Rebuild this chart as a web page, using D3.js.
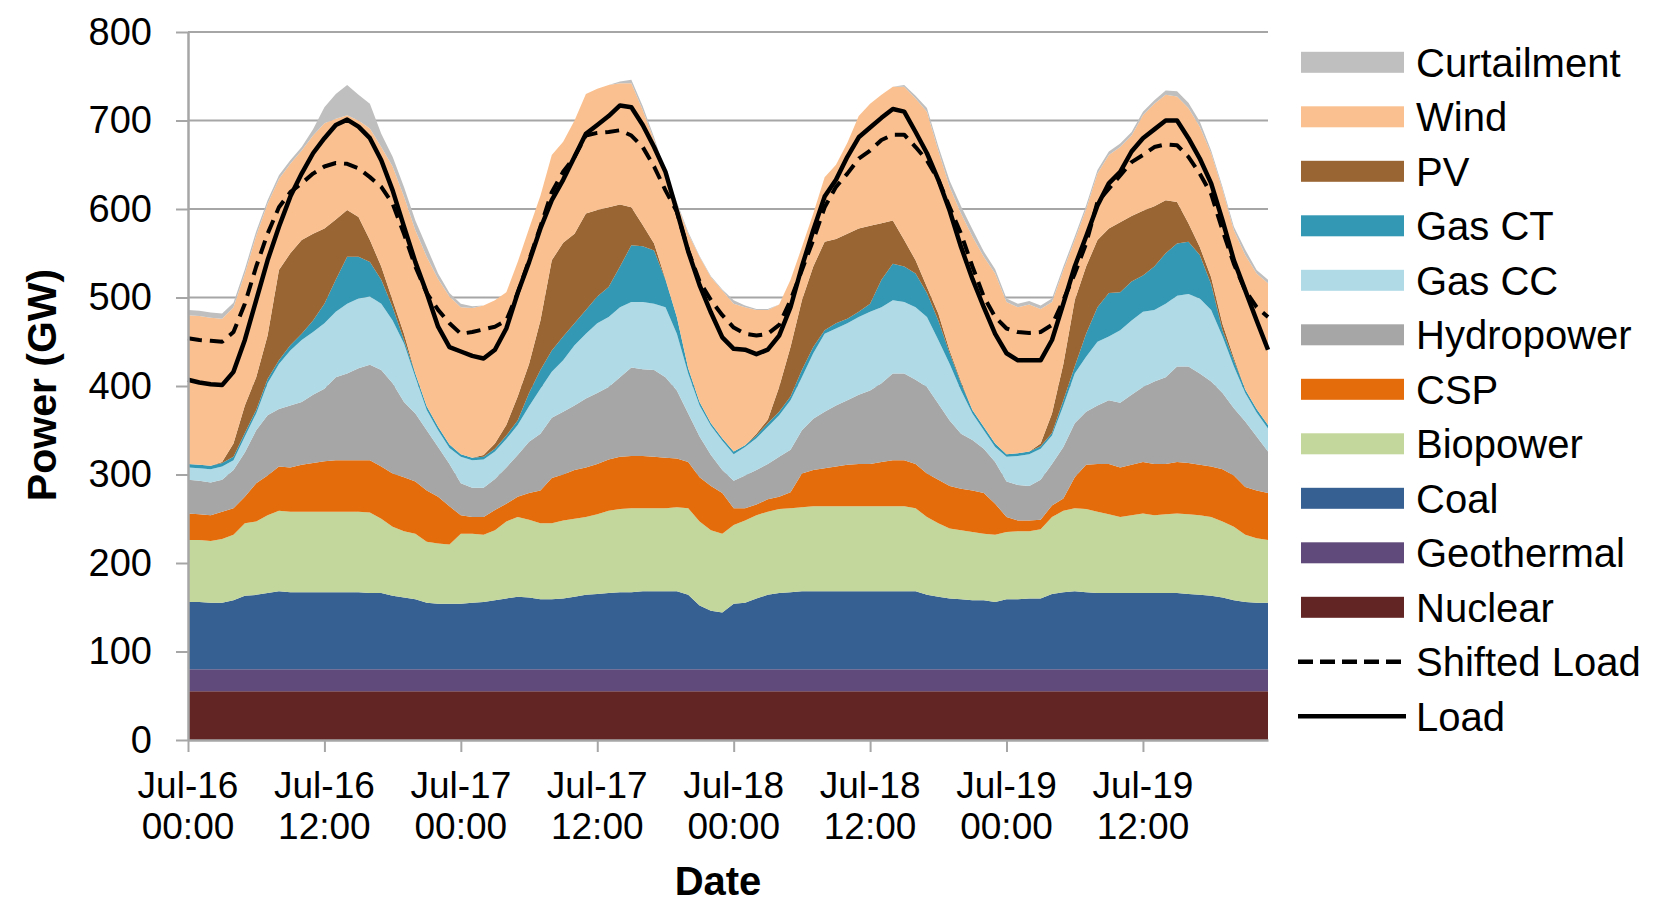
<!DOCTYPE html>
<html>
<head>
<meta charset="utf-8">
<script src="https://cdn.jsdelivr.net/npm/d3@7"></script>
<style>
  body { margin: 0; background: #fff; }
  svg { display: block; }
  text { font-family: "Liberation Sans", Arial, Helvetica, sans-serif; fill: #000; }
</style>
</head>
<body>
<svg id="chart" width="1655" height="907"></svg>
<script>
// Hourly dispatch, Jul-16 00:00 through Jul-19 23:00 (GW)
const hourIndex = d3.range(96);

const nuclear = [55,55,55,55,55,55,55,55,55,55,55,55,55,55,55,55,55,55,55,55,55,55,55,55,
  55,55,55,55,55,55,55,55,55,55,55,55,55,55,55,55,55,55,55,55,55,55,55,55,
  55,55,55,55,55,55,55,55,55,55,55,55,55,55,55,55,55,55,55,55,55,55,55,55,
  55,55,55,55,55,55,55,55,55,55,55,55,55,55,55,55,55,55,55,55,55,55,55,55];
const geothermal = [25,25,25,25,25,25,25,25,25,25,25,25,25,25,25,25,25,25,25,25,25,25,25,25,
  25,25,25,25,25,25,25,25,25,25,25,25,25,25,25,25,25,25,25,25,25,25,25,25,
  25,25,25,25,25,25,25,25,25,25,25,25,25,25,25,25,25,25,25,25,25,25,25,25,
  25,25,25,25,25,25,25,25,25,25,25,25,25,25,25,25,25,25,25,25,25,25,25,25];
const coal = [76,76,75,75,78,83,84,86,88,87,87,87,87,87,87,87,86,86,83,81,79,75,74,74,
  74,75,76,78,80,82,81,79,79,80,82,84,85,86,87,87,88,88,88,88,84,72,66,64,
  74,75,80,84,86,87,88,88,88,88,88,88,88,88,88,88,88,84,82,80,79,78,78,76,
  79,79,80,80,85,87,88,87,86,86,86,86,86,86,86,86,85,84,83,81,78,76,75,75];
const biopower = [70,70,70,72,74,82,83,88,91,91,91,91,91,91,91,91,91,84,78,75,74,69,68,67,
  79,78,76,79,87,90,88,86,86,88,88,88,90,93,94,95,94,94,94,95,98,95,91,89,
  89,93,94,94,95,95,95,96,96,96,96,96,96,96,96,96,94,88,83,79,78,77,75,76,
  76,77,76,78,87,92,94,94,92,89,86,88,90,88,89,90,90,90,89,86,83,76,73,71];
const csp = [30,29,29,31,30,30,43,45,50,50,53,55,57,58,58,58,59,59,60,61,59,58,53,43,
  21,19,20,23,20,23,30,37,51,52,55,56,57,58,59,59,59,58,57,55,52,50,50,46,
  19,14,12,14,14,18,38,41,43,45,47,48,48,50,52,52,50,49,49,48,47,47,46,35,
  17,12,12,11,13,14,35,50,54,57,56,57,58,58,57,58,58,57,57,59,58,54,54,53];
const hydropower = [38,38,37,36,43,50,60,68,65,70,71,77,82,94,98,104,108,109,102,85,77,68,56,48,
  36,33,33,35,41,47,58,64,68,71,73,78,80,82,90,100,98,98,91,77,55,46,35,26,
  31,37,39,40,45,48,49,58,64,69,73,78,83,89,98,98,95,98,86,74,62,57,50,47,
  40,40,39,45,47,58,61,60,66,72,73,79,85,93,98,108,109,103,96,86,76,74,61,47];
const gasCC = [14,14,15,15,11,18,19,36,51,62,70,71,74,74,79,79,77,75,71,66,41,23,19,18,
  30,31,32,31,32,34,40,51,52,58,68,73,79,79,79,74,76,75,79,64,45,35,33,33,
  30,32,36,42,47,56,60,74,88,87,87,88,89,86,83,81,82,79,72,64,49,30,21,17,
  28,33,36,35,32,47,56,62,72,72,82,84,85,81,83,80,82,85,81,64,47,32,27,26];
const gasCT = [4,4,4,4,4,4,4,5,4,6,7,13,22,36,53,47,39,27,15,4,4,4,4,4,
  3,3,3,3,4,5,15,21,24,27,25,27,30,34,46,64,63,60,31,19,6,4,3,3,
  3,2,3,4,4,4,8,7,4,6,5,6,9,31,41,40,38,27,22,12,8,4,4,4,
  3,3,3,3,3,6,8,26,39,49,43,44,41,49,57,59,59,49,29,7,7,4,4,4];
const pv = [0,0,0,1,15,31,37,49,102,104,106,98,85,68,53,45,25,15,8,7,0,0,0,0,
  0,0,2,6,12,27,33,56,102,106,101,109,98,90,70,43,24,8,1,0,0,0,0,0,
  0,0,2,4,28,56,79,91,100,95,96,94,88,64,49,30,15,7,8,3,2,0,0,0,
  0,0,0,3,22,41,75,76,76,73,79,74,73,68,60,47,21,9,8,7,3,0,0,0];
const wind = [168,168,167,162,154,149,160,149,103,101,101,111,119,114,107,109,126,135,151,155,162,169,167,167,
  166,169,169,162,150,152,153,141,119,114,128,135,137,138,137,140,130,117,119,128,152,164,165,167,
  167,156,140,124,93,76,60,60,73,84,103,127,138,145,151,173,183,198,184,185,190,196,192,192,
  172,165,166,152,126,106,68,65,75,83,85,91,108,116,119,119,130,136,140,152,144,152,153,160];
const curtailment = [6,6,6,6,5,5,5,4,4,4,4,7,18,28,34,29,28,15,11,11,11,11,6,4,
  4,2,0,0,0,0,0,0,0,0,0,0,0,0,2,4,4,3,2,2,2,1,1,1,
  4,2,1,1,0,0,0,0,0,0,0,0,0,0,0,2,3,4,5,7,8,8,6,5,
  4,4,4,4,4,4,4,4,4,4,4,4,4,4,5,6,6,6,3,3,4,6,4,4];
const load = [407,404,402,401,416,452,497,542,580,614,640,663,680,695,701,693,680,655,621,580,540,505,467,444,
  439,434,431,441,465,505,540,578,610,633,659,685,695,705,717,715,695,670,642,598,552,514,483,455,
  442,441,436,441,457,489,535,576,614,633,659,681,692,703,713,710,687,663,633,598,557,521,489,459,
  437,429,429,429,452,493,535,569,604,629,642,665,680,690,700,700,680,657,629,587,542,508,474,441];
const shiftedLoad = [454,452,451,450,461,493,535,572,602,619,629,640,648,652,651,646,636,625,606,572,535,505,486,471,
  459,461,464,467,474,505,542,580,619,642,659,683,686,687,689,683,670,648,621,597,553,518,497,480,
  466,459,457,459,469,497,531,565,602,625,640,657,666,678,684,684,670,655,633,602,572,535,501,478,
  465,461,460,461,469,497,527,561,608,623,638,653,661,670,673,672,659,640,617,576,538,508,489,478];

const yTicks = [0,100,200,300,400,500,600,700,800];
const xTickHours = [0,12,24,36,48,60,72,84];
const xTickLabels = [["Jul-16","00:00"],["Jul-16","12:00"],["Jul-17","00:00"],["Jul-17","12:00"],
                     ["Jul-18","00:00"],["Jul-18","12:00"],["Jul-19","00:00"],["Jul-19","12:00"]];

// Stack order bottom to top, with fill colours
const layers = [
  {key:"nuclear",     label:"Nuclear",     values:nuclear,     color:"#632523"},
  {key:"geothermal",  label:"Geothermal",  values:geothermal,  color:"#604A7B"},
  {key:"coal",        label:"Coal",        values:coal,        color:"#376092"},
  {key:"biopower",    label:"Biopower",    values:biopower,    color:"#C3D69B"},
  {key:"csp",         label:"CSP",         values:csp,         color:"#E46C0A"},
  {key:"hydropower",  label:"Hydropower",  values:hydropower,  color:"#A6A6A6"},
  {key:"gasCC",       label:"Gas CC",      values:gasCC,       color:"#B0DAE6"},
  {key:"gasCT",       label:"Gas CT",      values:gasCT,       color:"#3398B4"},
  {key:"pv",          label:"PV",          values:pv,          color:"#996633"},
  {key:"wind",        label:"Wind",        values:wind,        color:"#FAC090"},
  {key:"curtailment", label:"Curtailment", values:curtailment, color:"#BFBFBF"}
];

const rows = hourIndex.map(h => {
  const r = {hour: h};
  layers.forEach(l => { r[l.key] = l.values[h]; });
  return r;
});

const svg = d3.select("#chart");
const x = d3.scaleLinear().domain([0, 95]).range([188, 1268]);
const y = d3.scaleLinear().domain([0, 800]).range([740, 32]);
const gridColor = "#A6A6A6";

// horizontal gridlines behind the areas
svg.append("g").selectAll("line").data(yTicks.filter(v => v > 0)).join("line")
  .attr("x1", x(0)).attr("x2", x(95))
  .attr("y1", d => y(d)).attr("y2", d => y(d))
  .attr("stroke", gridColor).attr("stroke-width", 2);

// stacked areas
const stacked = d3.stack().keys(layers.map(l => l.key))(rows);
const area = d3.area()
  .x(d => x(d.data.hour))
  .y0(d => y(d[0]))
  .y1(d => y(d[1]))
  .curve(d3.curveLinear);
svg.append("g").selectAll("path").data(stacked).join("path")
  .attr("d", area)
  .attr("fill", (d, i) => layers[i].color);

// load lines
const line = d3.line().x((d, i) => x(i)).y(d => y(d)).curve(d3.curveLinear);
svg.append("path").datum(shiftedLoad).attr("d", line)
  .attr("fill", "none").attr("stroke", "#000").attr("stroke-width", 4)
  .attr("stroke-dasharray", "14,8").attr("stroke-linejoin", "round");
svg.append("path").datum(load).attr("d", line)
  .attr("fill", "none").attr("stroke", "#000").attr("stroke-width", 4.5)
  .attr("stroke-linejoin", "round");

// y axis
const yAxis = svg.append("g").attr("transform", `translate(${x(0)},0)`)
  .call(d3.axisLeft(y).tickValues(yTicks).tickSize(12).tickSizeOuter(0).tickPadding(24));
yAxis.select(".domain").attr("stroke", gridColor).attr("stroke-width", 2.5);
yAxis.selectAll(".tick line").attr("stroke", gridColor).attr("stroke-width", 2);
yAxis.selectAll(".tick text")
  .style("font-family", '"Liberation Sans", Arial, sans-serif')
  .style("font-size", "38px").attr("fill", "#000");

// x axis
const xAxis = svg.append("g").attr("transform", `translate(0,${y(0)})`)
  .call(d3.axisBottom(x).tickValues(xTickHours).tickSize(12).tickSizeOuter(0).tickFormat(""));
xAxis.select(".domain").attr("stroke", gridColor).attr("stroke-width", 2.5);
xAxis.selectAll(".tick line").attr("stroke", gridColor).attr("stroke-width", 2);
const xl = svg.append("g").selectAll("text").data(xTickHours).join("text")
  .attr("text-anchor", "middle")
  .style("font-size", "37px");
xl.append("tspan").attr("x", d => x(d)).attr("y", 798).text((d, i) => xTickLabels[i][0]);
xl.append("tspan").attr("x", d => x(d)).attr("y", 839).text((d, i) => xTickLabels[i][1]);

// axis titles
svg.append("text").attr("x", 718).attr("y", 895).attr("text-anchor", "middle")
  .style("font-size", "40px").style("font-weight", "bold").text("Date");
svg.append("text").attr("transform", "translate(56,385) rotate(-90)")
  .attr("text-anchor", "middle")
  .style("font-size", "41px").style("font-weight", "bold").text("Power (GW)");

// legend
const legendItems = layers.slice().reverse().map(l => ({label: l.label, color: l.color, kind: "area"}))
  .concat([{label: "Shifted Load", kind: "dash"}, {label: "Load", kind: "solid"}]);
const lg = svg.append("g").selectAll("g").data(legendItems).join("g")
  .attr("transform", (d, i) => `translate(0,${62.3 + i * 54.5})`);
lg.filter(d => d.kind === "area").append("rect")
  .attr("x", 1301).attr("y", -10.5).attr("width", 103).attr("height", 21)
  .attr("fill", d => d.color);
lg.filter(d => d.kind !== "area").append("line")
  .attr("x1", 1298).attr("x2", 1406).attr("y1", 0).attr("y2", 0)
  .attr("stroke", "#000").attr("stroke-width", 4.5)
  .attr("stroke-dasharray", d => d.kind === "dash" ? "15,7" : null);
lg.append("text").attr("x", 1416).attr("y", 0).attr("dy", "0.36em")
  .style("font-size", "40px").text(d => d.label);
</script>
</body>
</html>
